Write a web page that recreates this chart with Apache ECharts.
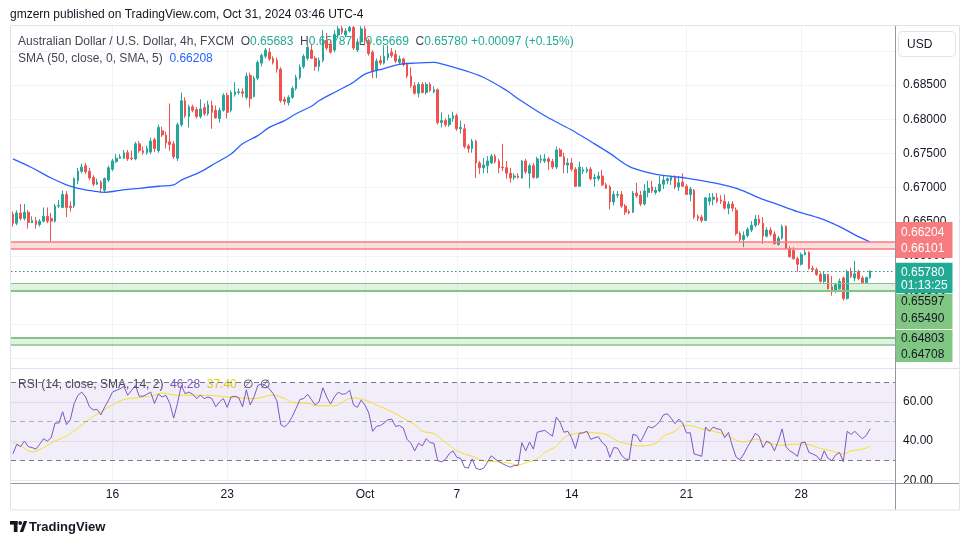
<!DOCTYPE html>
<html><head><meta charset="utf-8">
<script src="https://cdn.jsdelivr.net/npm/echarts@6/dist/echarts.min.js"></script>
<style>html,body{margin:0;padding:0;background:#fff}#c{width:970px;height:545px}</style>
</head><body><div id="c"></div>
<script>
// ---------- DATA ----------
const opens = [
0.6661,0.6648,0.6663,0.6655,0.6664,0.6649,0.6652,0.6646,0.6651,0.6658,
0.6655,0.6651,0.6673,0.6671,0.6690,0.6673,0.6673,0.6710,0.6724,0.6732,
0.6724,0.6715,0.6705,0.6708,0.6696,0.6711,0.6727,0.6738,0.6743,0.6743,
0.6751,0.6743,0.6742,0.6764,0.6754,0.6751,0.6752,0.6770,0.6754,0.6783,
0.6777,0.6767,0.6764,0.6743,0.6792,0.6827,0.6804,0.6818,0.6814,0.6804,
0.6817,0.6808,0.6820,0.6813,0.6801,0.6813,0.6835,0.6813,0.6836,0.6839,
0.6840,0.6832,0.6864,0.6833,0.6860,0.6882,0.6892,0.6898,0.6889,0.6886,
0.6873,0.6829,0.6824,0.6832,0.6845,0.6861,0.6877,0.6889,0.6901,0.6889,
0.6877,0.6886,0.6915,0.6910,0.6901,0.6923,0.6933,0.6923,0.6929,0.6934,
0.6901,0.6913,0.6932,0.6915,0.6898,0.6871,0.6886,0.6882,0.6890,0.6898,
0.6895,0.6883,0.6888,0.6880,0.6863,0.6849,0.6838,0.6851,0.6839,0.6851,
0.6840,0.6843,0.6795,0.6798,0.6792,0.6801,0.6805,0.6786,0.6786,0.6761,
0.6757,0.6768,0.6736,0.6729,0.6732,0.6736,0.6746,0.6739,0.6730,0.6729,
0.6721,0.6715,0.6717,0.6714,0.6739,0.6721,0.6732,0.6715,0.6740,0.6739,
0.6742,0.6738,0.6730,0.6755,0.6745,0.6733,0.6736,0.6727,0.6702,0.6724,
0.6724,0.6727,0.6713,0.6713,0.6717,0.6704,0.6701,0.6679,0.6689,0.6690,
0.6673,0.6665,0.6664,0.6692,0.6689,0.6676,0.6693,0.6701,0.6693,0.6695,
0.6705,0.6710,0.6711,0.6715,0.6701,0.6708,0.6702,0.6690,0.6696,0.6658,
0.6657,0.6652,0.6680,0.6683,0.6685,0.6682,0.6680,0.6670,0.6676,0.6667,
0.6633,0.6624,0.6630,0.6638,0.6645,0.6654,0.6648,0.6629,0.6638,0.6632,
0.6617,0.6626,0.6643,0.6611,0.6608,0.6596,0.6588,0.6602,0.6605,0.6582,
0.6580,0.6573,0.6563,0.6573,0.6555,0.6548,0.6552,0.6568,0.6538,0.6577,
0.6568,0.6577,0.6568,0.6561,0.65683];
const closes = [
0.6648,0.6663,0.6655,0.6664,0.6649,0.6652,0.6646,0.6651,0.6658,0.6651,
0.6651,0.6673,0.6674,0.6690,0.6671,0.6671,0.6713,0.6724,0.6730,0.6723,
0.6714,0.6705,0.6708,0.6699,0.6713,0.6729,0.6739,0.6743,0.6745,0.6751,
0.6742,0.6742,0.6764,0.6754,0.6751,0.6757,0.6768,0.6757,0.6788,0.6777,
0.6765,0.6763,0.6745,0.6792,0.6827,0.6805,0.6818,0.6813,0.6804,0.6815,
0.6808,0.6821,0.6810,0.6802,0.6813,0.6835,0.6810,0.6839,0.6840,0.6840,
0.6838,0.6863,0.6830,0.6860,0.6883,0.6893,0.6901,0.6888,0.6883,0.6873,
0.6827,0.6826,0.6832,0.6845,0.6861,0.6876,0.6892,0.6905,0.6889,0.6877,
0.6886,0.6915,0.6904,0.6898,0.6924,0.6932,0.6927,0.6929,0.6934,0.6904,
0.6913,0.6932,0.6915,0.6896,0.6870,0.6885,0.6882,0.6892,0.6896,0.6893,
0.6885,0.6888,0.6880,0.6863,0.6849,0.6838,0.6851,0.6839,0.6851,0.6842,
0.6843,0.6795,0.6798,0.6792,0.6801,0.6805,0.6786,0.6788,0.6760,0.6757,
0.6768,0.6736,0.6729,0.6733,0.6739,0.6746,0.6738,0.6729,0.6729,0.6721,
0.6714,0.6717,0.6715,0.6739,0.6723,0.6732,0.6715,0.6742,0.6742,0.6742,
0.6738,0.6730,0.6755,0.6746,0.6733,0.6736,0.6727,0.6702,0.6730,0.6726,
0.6727,0.6713,0.6715,0.6717,0.6704,0.6699,0.6679,0.6690,0.6690,0.6673,
0.6664,0.6663,0.6692,0.6688,0.6676,0.6695,0.6699,0.6695,0.6696,0.6705,
0.6711,0.6713,0.6715,0.6701,0.6707,0.6702,0.6690,0.6698,0.6657,0.6655,
0.6652,0.6685,0.6685,0.6686,0.6680,0.6680,0.6670,0.6676,0.6670,0.6633,
0.6624,0.6630,0.6639,0.6645,0.6654,0.6648,0.6629,0.6638,0.6632,0.6618,
0.6626,0.6643,0.6611,0.6599,0.6596,0.6588,0.6602,0.6605,0.6582,0.6580,
0.6573,0.6563,0.6573,0.6552,0.6548,0.6558,0.6563,0.6538,0.6577,0.6570,
0.6574,0.6567,0.6561,0.65683,0.65780];
const lows = [
0.6643,0.6645,0.6652,0.6652,0.6640,0.6648,0.6640,0.6643,0.6649,0.6648,
0.6621,0.6649,0.6670,0.6670,0.6657,0.6665,0.6670,0.6705,0.6721,0.6720,
0.6711,0.6702,0.6704,0.6692,0.6693,0.6708,0.6724,0.6736,0.6742,0.6742,
0.6739,0.6740,0.6740,0.6751,0.6748,0.6748,0.6749,0.6752,0.6751,0.6774,
0.6757,0.6754,0.6742,0.6739,0.6789,0.6802,0.6788,0.6810,0.6801,0.6801,
0.6805,0.6805,0.6786,0.6801,0.6795,0.6811,0.6801,0.6810,0.6833,0.6836,
0.6832,0.6829,0.6817,0.6832,0.6857,0.6877,0.6889,0.6885,0.6880,0.6868,
0.6824,0.6821,0.6820,0.6830,0.6842,0.6858,0.6874,0.6886,0.6888,0.6871,
0.6870,0.6883,0.6901,0.6896,0.6898,0.6921,0.6924,0.6920,0.6927,0.6901,
0.6898,0.6910,0.6908,0.6893,0.6860,0.6860,0.6879,0.6880,0.6886,0.6890,
0.6882,0.6880,0.6877,0.6860,0.6846,0.6836,0.6832,0.6838,0.6836,0.6840,
0.6838,0.6792,0.6788,0.6789,0.6789,0.6796,0.6783,0.6779,0.6757,0.6751,
0.6751,0.6714,0.6720,0.6721,0.6721,0.6735,0.6735,0.6721,0.6724,0.6713,
0.6707,0.6711,0.6713,0.6713,0.6720,0.6699,0.6713,0.6713,0.6736,0.6736,
0.6726,0.6727,0.6727,0.6745,0.6721,0.6721,0.6724,0.6701,0.6701,0.6720,
0.6721,0.6711,0.6701,0.6710,0.6702,0.6698,0.6668,0.6674,0.6685,0.6670,
0.6660,0.6661,0.6663,0.6685,0.6673,0.6674,0.6686,0.6692,0.6690,0.6693,
0.6698,0.6705,0.6704,0.6698,0.6695,0.6701,0.6689,0.6680,0.6654,0.6651,
0.6649,0.6651,0.6674,0.6674,0.6677,0.6676,0.6668,0.6661,0.6665,0.6630,
0.6621,0.6613,0.6627,0.6635,0.6642,0.6645,0.6618,0.6627,0.6629,0.6617,
0.6615,0.6624,0.6610,0.6598,0.6595,0.6577,0.6586,0.6601,0.6580,0.6577,
0.6571,0.6561,0.6560,0.6551,0.6542,0.6546,0.6551,0.6535,0.6536,0.6568,
0.6563,0.6565,0.6560,0.6560,0.65669];
const highs = [
0.6665,0.6667,0.6676,0.6676,0.6667,0.6658,0.6657,0.6654,0.6671,0.6671,
0.6663,0.6676,0.6682,0.6696,0.6695,0.6680,0.6715,0.6729,0.6735,0.6736,
0.6729,0.6718,0.6713,0.6711,0.6715,0.6732,0.6742,0.6749,0.6749,0.6755,
0.6755,0.6754,0.6767,0.6768,0.6760,0.6761,0.6773,0.6773,0.6792,0.6789,
0.6782,0.6823,0.6768,0.6795,0.6839,0.6832,0.6821,0.6821,0.6818,0.6829,
0.6823,0.6827,0.6827,0.6820,0.6817,0.6838,0.6839,0.6842,0.6854,0.6845,
0.6845,0.6868,0.6868,0.6863,0.6886,0.6896,0.6904,0.6904,0.6892,0.6890,
0.6876,0.6833,0.6835,0.6848,0.6865,0.6880,0.6895,0.6910,0.6910,0.6892,
0.6890,0.6930,0.6926,0.6915,0.6930,0.6936,0.6937,0.6933,0.6937,0.6937,
0.6918,0.6936,0.6936,0.6918,0.6901,0.6889,0.6893,0.6908,0.6908,0.6904,
0.6901,0.6893,0.6890,0.6883,0.6876,0.6854,0.6854,0.6854,0.6854,0.6854,
0.6848,0.6845,0.6810,0.6801,0.6807,0.6811,0.6808,0.6798,0.6793,0.6764,
0.6771,0.6770,0.6739,0.6743,0.6746,0.6749,0.6749,0.6742,0.6764,0.6739,
0.6729,0.6721,0.6721,0.6740,0.6742,0.6735,0.6736,0.6745,0.6748,0.6749,
0.6745,0.6742,0.6760,0.6758,0.6751,0.6743,0.6743,0.6730,0.6738,0.6730,
0.6730,0.6730,0.6720,0.6723,0.6726,0.6707,0.6704,0.6695,0.6695,0.6695,
0.6676,0.6668,0.6695,0.6707,0.6695,0.6705,0.6710,0.6710,0.6701,0.6717,
0.6717,0.6715,0.6718,0.6718,0.6717,0.6721,0.6705,0.6701,0.6698,0.6661,
0.6660,0.6686,0.6692,0.6692,0.6692,0.6689,0.6690,0.6680,0.6680,0.6671,
0.6636,0.6636,0.6642,0.6651,0.6660,0.6660,0.6657,0.6642,0.6642,0.6636,
0.6629,0.6646,0.6645,0.6614,0.6613,0.6599,0.6605,0.6610,0.6607,0.6586,
0.6583,0.6576,0.6577,0.6574,0.6571,0.6561,0.6567,0.6570,0.6580,0.6583,
0.6593,0.6580,0.6571,0.6570,0.65787];

// SMA(50) read at sampled bars
const smaIdx = [0,5,10,14,17,21,24,28,33,38,42,44,49,53,57,60,64,67,71,74,78,80,85,89,92,97,101,105,110,112,117,123,129,132,139,143,147,152,156,161,166,171,176,182,187,191,195,200,205,211,216,220,224];
const smaVal = [0.6742,0.6729,0.6714,0.6704,0.6699,0.6695,0.6693,0.6696,0.6699,0.6702,0.6704,0.6711,0.6723,0.6736,0.6749,0.6764,0.6776,0.6788,0.6798,0.6808,0.6819,0.6827,0.6842,0.6854,0.6866,0.6874,0.6880,0.6882,0.6883,0.6881,0.6873,0.6861,0.6842,0.6830,0.6805,0.6793,0.6781,0.6764,0.6750,0.6731,0.6722,0.6717,0.6714,0.6708,0.6702,0.6695,0.6685,0.6675,0.6665,0.6655,0.6643,0.6631,0.66208];

// RSI(14) per bar
const rsi = [
33.5,38.3,37.2,40,37.2,36.7,35.9,38.4,41.2,40,
41.7,49.2,49.2,55,48.4,50.9,59.2,63.4,65,62.5,
57.5,55.9,56.2,53.4,57.5,60.9,65,65.9,66.7,67.9,
63.4,65.9,68.4,62.9,62.9,63.9,65,59.2,64,62.5,
63.4,59.2,51.7,59.2,68.4,64.2,65,63.9,61.7,63.4,
61.7,62.5,61.7,57.5,60,61.7,57.2,62.5,62.9,62.2,
57.5,66.2,58.4,62.5,68.4,69.2,68.4,66.7,64.2,60.5,
48.4,47.2,49.2,52.5,56.7,61.2,61.7,63.9,61.2,58.4,
60,67.2,62.5,58.9,62.5,65,63.9,64.2,65.9,58.4,
57.2,60.9,58.4,54.3,45,47.5,47.9,49.2,50.9,51.2,
47.5,47.9,46.7,40.9,38.9,35,38.9,37.5,41.2,39.2,
38.9,30,29.4,30.5,33.5,35,31.7,31.2,26.7,26.2,
30.9,26.2,25.4,26.2,29.2,32.5,30.9,29.5,28.4,27.5,
26.7,27.5,27.5,39.2,35,39.5,35.9,44.5,45,45.5,
43.9,42.5,52.2,49.5,44.5,45,41.7,36.2,43.9,44.2,
45,40.9,41.7,42.2,39.2,37.5,31.7,36.7,36.4,32.9,
30.9,30.5,43.4,42.9,39.5,43.4,47.5,46.7,47.9,50,
53.4,53.9,51.7,48.9,51.2,49.2,44.2,44.2,33.4,32.9,
32.2,47.2,45,47.2,46.2,45.9,41.7,44.5,37.5,31.7,
30.5,33.4,37.2,40.5,43.9,42.5,36.7,40,38.9,35,
40,46.2,37.2,35,33.9,32.2,39.2,39.5,34.2,33.4,
32.5,30,35,31.2,30,32.9,34.2,29.5,45,43.4,
45,42.9,41.2,42.9,46.28];

// RSI-based MA read at sampled bars
const rsiMaIdx = [0,2,5,8,11,14,17,20,23,26,29,33,37,39,43,49,58,63,68,71,73,77,80,84,87,89,92,95,99,102,105,107,110,112,114,116,120,123,126,129,132,134,137,139,142,144,146,150,152,155,158,161,164,168,170,173,175,177,180,183,186,189,191,194,197,201,204,207,211,214,217,219,222,224];
const rsiMaVal = [39.2,37.5,34.5,36.7,40,42.5,46.7,51.2,55,58.4,61.2,62.2,63.4,64.5,63.4,63.4,62.2,61.7,63.4,61.7,59.7,59.2,58,58,60.9,62,60.9,58.4,55,51.7,48.4,45,43.9,40.9,37.9,35,32.2,30,29.5,28.9,27.9,28.9,30.9,34.2,37.5,41.7,43.4,44.5,44.2,43.4,40,38.4,37.5,38.9,42.5,45,47.9,47.9,46.2,45,43.4,40.5,39.5,40.9,39.2,37.9,38.4,38.4,36.2,35,33.4,35,35.9,37.4];

// x-axis tick labels (bar index where each label sits)
const tickIndex = [26,56,92,116,146,176,206];
const tickText = ['16','23','Oct','7','14','21','28'];

// horizontal zones
const levelsRed = [0.66204, 0.66101];
const levelsGreen1 = [0.65597, 0.65490];
const levelsGreen2 = [0.64803, 0.64708];
const countdown = '01:13:25';

// ---------- CHART ----------
const FONT = "'Liberation Sans', Arial, sans-serif";
const N_SLOTS = 231;
const cats = Array.from({length: N_SLOTS}, (_, i) => String(i));
const tickMap = {}; tickIndex.forEach((t, k) => { tickMap[t] = tickText[k]; });
const isTick = (i) => tickMap[i] !== undefined;

const candleData = opens.map((o, i) => [o, closes[i], lows[i], highs[i]]);
const smaData = smaIdx.map((x, i) => [x, smaVal[i]]);
const rsiData = rsi.map((v, i) => [i, v]);
const rsiMaData = rsiMaIdx.map((x, i) => [x, rsiMaVal[i]]);
const last = opens.length - 1;
const lastPrice = closes[last];

const UP = '#26a69a', DOWN = '#ef5350';
const RED_LINE = '#f77c80', GREEN_LINE = '#81c784';

const chart = echarts.init(document.getElementById('c'), null, {renderer: 'canvas', width: 970, height: 545});

const xAx = (g) => ({
  type: 'category', gridIndex: g, data: cats, boundaryGap: true,
  axisLine: {show: false}, axisTick: {show: false},
  axisLabel: g === 1 ? {show: true, interval: (i) => isTick(i), formatter: (v, i) => tickMap[i] || '',
    color: '#131722', fontSize: 12, margin: 6, fontFamily: FONT} : {show: false},
  splitLine: {show: true, interval: (i) => isTick(i), alignWithLabel: true, lineStyle: {color: '#f0f3fa', width: 1}}
});

const bandLine = (p, color, w) => ({yAxis: p, lineStyle: {color: color, width: w || 1.5, type: 'solid'}});

const chg = closes[last] - closes[last - 1];
const pct = chg / closes[last - 1] * 100;
const sgn = chg >= 0 ? '+' : '-';

const option = {
  animation: false,
  backgroundColor: '#ffffff',
  textStyle: {fontFamily: FONT},
  grid: [
    {left: 11, top: 25, width: 884, height: 343},
    {left: 11, top: 368, width: 884, height: 115}
  ],
  xAxis: [xAx(0), xAx(1)],
  yAxis: [
    {type: 'value', gridIndex: 0, position: 'right', min: 0.64363, max: 0.69377,
      minInterval: 0.005, maxInterval: 0.005, splitNumber: 10,
      axisLine: {show: false}, axisTick: {show: false},
      axisLabel: {color: '#131722', fontSize: 12, margin: 8, fontFamily: FONT,
        formatter: (v) => v.toFixed(5), showMinLabel: false, showMaxLabel: false},
      splitLine: {lineStyle: {color: '#f0f3fa'}}},
    {type: 'value', gridIndex: 1, position: 'right', min: 18.6, max: 77.3,
      minInterval: 20, maxInterval: 20, splitNumber: 3,
      axisLine: {show: false}, axisTick: {show: false},
      axisLabel: {color: '#131722', fontSize: 12, margin: 8, fontFamily: FONT,
        formatter: (v) => v.toFixed(2), showMinLabel: false, showMaxLabel: false},
      splitLine: {lineStyle: {color: '#ebe8f2'}}}
  ],
  series: [
    {type: 'candlestick', xAxisIndex: 0, yAxisIndex: 0, data: candleData, barWidth: 2.2, z: 3,
      itemStyle: {color: UP, color0: DOWN, borderColor: UP, borderColor0: DOWN, borderWidth: 1},
      markArea: {silent: true, emphasis: {disabled: true}, data: [
        [{yAxis: levelsRed[0], itemStyle: {color: 'rgba(247,124,128,0.26)'}}, {yAxis: levelsRed[1]}],
        [{yAxis: levelsGreen1[0], itemStyle: {color: 'rgba(129,199,132,0.24)'}}, {yAxis: levelsGreen1[1]}],
        [{yAxis: levelsGreen2[0], itemStyle: {color: 'rgba(129,199,132,0.24)'}}, {yAxis: levelsGreen2[1]}]
      ]},
      markLine: {silent: true, precision: 5, symbol: ['none', 'none'], label: {show: false}, emphasis: {disabled: true}, data: [
        bandLine(levelsRed[0], RED_LINE), bandLine(levelsRed[1], RED_LINE),
        bandLine(levelsGreen1[0], GREEN_LINE, 1.2), bandLine(levelsGreen1[1], GREEN_LINE, 2),
        bandLine(levelsGreen2[0], GREEN_LINE, 2), bandLine(levelsGreen2[1], GREEN_LINE, 1.5),
        {yAxis: lastPrice, lineStyle: {color: '#1f9e8a', type: [1.5, 2.5], width: 1.2}}
      ]}
    },
    {type: 'line', xAxisIndex: 0, yAxisIndex: 0, data: smaData, smooth: 0.35, showSymbol: false,
      lineStyle: {color: '#2962ff', width: 1.3}, z: 4, silent: true},
    {type: 'line', xAxisIndex: 1, yAxisIndex: 1, data: rsiData, showSymbol: false, silent: true,
      lineStyle: {color: '#7e57c2', width: 1}, z: 4,
      markArea: {silent: true, data: [[{yAxis: 30, itemStyle: {color: 'rgba(126,87,194,0.1)'}}, {yAxis: 70}]]},
      markLine: {silent: true, precision: 2, symbol: ['none', 'none'], label: {show: false}, data: [
        {yAxis: 70, lineStyle: {color: '#787b86', type: [5, 4], width: 1}},
        {yAxis: 50, lineStyle: {color: 'rgba(120,123,134,0.55)', type: [5, 4], width: 1}},
        {yAxis: 30, lineStyle: {color: '#787b86', type: [5, 4], width: 1}}
      ]}
    },
    {type: 'line', xAxisIndex: 1, yAxisIndex: 1, data: rsiMaData, smooth: 0.4, showSymbol: false, silent: true,
      lineStyle: {color: '#f2e02a', width: 1}, z: 3}
  ]
};
chart.setOption(option);

// ---------- annotations (placed via the library's price scale) ----------
const py = (p) => chart.convertToPixel({yAxisIndex: 0}, p);
const T = (x, y, text, fill, size, weight) => ({type: 'text', z: 70, silent: true,
  style: {x: x, y: y, text: text, fill: fill, fontSize: size || 12, fontFamily: FONT, fontWeight: weight || 'normal',
    textVerticalAlign: 'middle', verticalAlign: 'middle'}});
const R = (x, y, w, h, fill, z, stroke, r) => ({type: 'rect', z: z || 60, silent: true,
  shape: {x: x, y: y, width: w, height: h, r: r || 0}, style: {fill: fill, stroke: stroke || null, lineWidth: 1}});
const L = (x1, y1, x2, y2, c) => ({type: 'line', z: 65, silent: true, shape: {x1, y1, x2, y2}, style: {stroke: c, lineWidth: 1}});

const yr = py(levelsRed[0]);
const yt = py(lastPrice);
const yg1 = py(levelsGreen1[0]);
const yg2 = py(levelsGreen2[0]);
const TX = 901, TW = 57, TL = 895.5;

const rich = (parts) => parts.map(p => '{' + p[0] + '|' + p[1] + '}').join('');
const richStyles = {
  g: {fill: '#434651', color: '#434651', fontSize: 12, fontFamily: FONT},
  v: {fill: '#22ab94', color: '#22ab94', fontSize: 12, fontFamily: FONT},
  b: {fill: '#2962ff', color: '#2962ff', fontSize: 12, fontFamily: FONT},
  p: {fill: '#7e57c2', color: '#7e57c2', fontSize: 12, fontFamily: FONT},
  y: {fill: '#e8d40c', color: '#e8d40c', fontSize: 12, fontFamily: FONT}
};
const RT = (x, y, text, z) => ({type: 'text', z: z, silent: true,
  style: {x: x, y: y, text: text, rich: richStyles, fontSize: 12, fontFamily: FONT,
    textVerticalAlign: 'middle', verticalAlign: 'middle'}});

const f5 = (v) => v.toFixed(5);
const graphics = [
  // frame and separators
  R(896, 484, 63, 25.5, '#ffffff', 40),
  {type: 'rect', z: 66, silent: true, shape: {x: 10.5, y: 25.5, width: 949, height: 484.5}, style: {fill: 'none', stroke: '#e0e3eb', lineWidth: 1}},
  L(10, 368.5, 960, 368.5, '#e0e3eb'),
  L(10, 483.5, 960, 483.5, '#9598a1'),
  L(895.5, 25, 895.5, 510, '#9598a1'),
  // header
  T(10, 15, 'gmzern published on TradingView.com, Oct 31, 2024 03:46 UTC-4', '#131722', 12),
  // legends (under the candles)
  RT(18, 42, rich([['g', 'Australian Dollar / U.S. Dollar, 4h, FXCM  O'], ['v', f5(opens[last])], ['g', '  H'], ['v', f5(highs[last])],
    ['g', '  L'], ['v', f5(lows[last])], ['g', '  C'], ['v', f5(closes[last])],
    ['v', ' ' + sgn + Math.abs(chg).toFixed(5) + ' (' + sgn + Math.abs(pct).toFixed(2) + '%)']]), 0),
  RT(18, 59, rich([['g', 'SMA (50, close, 0, SMA, 5)  '], ['b', f5(smaVal[smaVal.length - 1])]]), 0),
  RT(18, 385, rich([['g', 'RSI (14, close, SMA, 14, 2)  '], ['p', rsi[last].toFixed(2)], ['g', '  '],
    ['y', rsiMaVal[rsiMaVal.length - 1].toFixed(2)], ['g', '  \u2205  \u2205']]), 0),
  // USD box
  R(898.5, 31.5, 57, 25, '#ffffff', 60, '#e0e3eb', 4),
  T(907, 44.5, 'USD', '#131722', 12),
  // price tags
  R(TL, yr - 20, TW, 36, '#f77c80', 60),
  T(TX, yr - 9.3, f5(levelsRed[0]), '#ffffff', 12),
  T(TX, yr + 7, f5(levelsRed[1]), '#ffffff', 12),
  R(TL, yt - 8.3, TW, 30.6, '#22ab94', 60),
  T(TX, yt + 1.5, f5(lastPrice), '#ffffff', 12),
  T(TX, yt + 14.5, countdown, '#ffffff', 12),
  R(TL, yg1 + 10.4, TW, 35, '#81c784', 60),
  T(TX, yg1 + 18.1, f5(levelsGreen1[0]), '#131722', 12),
  T(TX, yg1 + 35.4, f5(levelsGreen1[1]), '#131722', 12),
  R(TL, yg2 - 7.9, TW, 32, '#81c784', 60),
  T(TX, yg2 + 0.4, f5(levelsGreen2[0]), '#131722', 12),
  T(TX, yg2 + 17.1, f5(levelsGreen2[1]), '#131722', 12),
  // TradingView logo
  R(10, 521, 7.5, 3.6, '#131722', 60),
  R(13.8, 521, 3.7, 11, '#131722', 60),
  {type: 'circle', z: 60, silent: true, shape: {cx: 20.2, cy: 523, r: 1.9}, style: {fill: '#131722'}},
  {type: 'polygon', z: 60, silent: true, shape: {points: [[19.8, 532], [23.8, 521], [27.2, 521], [23.2, 532]]}, style: {fill: '#131722'}},
  T(29, 527, 'TradingView', '#131722', 13, 'bold')
];
chart.setOption({graphic: graphics});
</script></body></html>
